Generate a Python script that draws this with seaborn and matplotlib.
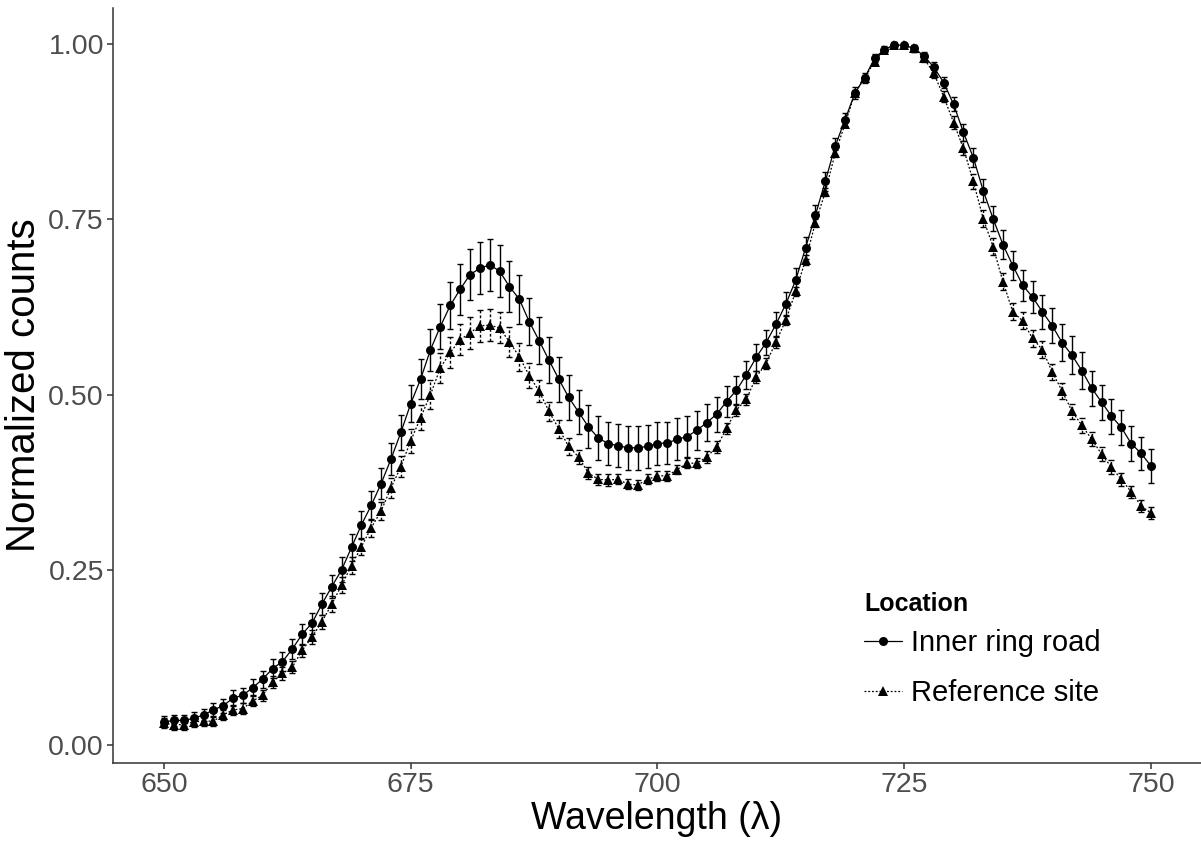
import numpy as np
import pandas as pd
import matplotlib
matplotlib.use("Agg")
import matplotlib.pyplot as plt
import seaborn as sns

wavelength = list(range(650, 751))

inner_mean = [
    0.033, 0.035, 0.035, 0.038, 0.043, 0.050, 0.056, 0.067, 0.071, 0.082,
    0.094, 0.109, 0.119, 0.137, 0.158, 0.174, 0.201, 0.226, 0.250, 0.282,
    0.314, 0.342, 0.373, 0.408, 0.446, 0.487, 0.522, 0.564, 0.597, 0.627,
    0.650, 0.671, 0.680, 0.685, 0.676, 0.654, 0.636, 0.604, 0.577, 0.549,
    0.522, 0.496, 0.475, 0.454, 0.438, 0.430, 0.427, 0.424, 0.424, 0.426,
    0.430, 0.431, 0.436, 0.440, 0.449, 0.460, 0.472, 0.490, 0.506, 0.528,
    0.553, 0.574, 0.600, 0.629, 0.663, 0.709, 0.756, 0.804, 0.854, 0.892,
    0.930, 0.952, 0.980, 0.992, 0.999, 0.998, 0.994, 0.983, 0.967, 0.945,
    0.914, 0.874, 0.838, 0.791, 0.751, 0.714, 0.684, 0.656, 0.639, 0.618,
    0.598, 0.574, 0.556, 0.534, 0.509, 0.489, 0.469, 0.453, 0.430, 0.416,
    0.398,
]
inner_sd = [
    0.008, 0.008, 0.008, 0.009, 0.009, 0.010, 0.010, 0.011, 0.011, 0.012,
    0.012, 0.013, 0.013, 0.014, 0.015, 0.015, 0.016, 0.017, 0.018, 0.019,
    0.020, 0.021, 0.022, 0.023, 0.025, 0.026, 0.028, 0.030, 0.032, 0.034,
    0.036, 0.036, 0.037, 0.037, 0.037, 0.036, 0.035, 0.034, 0.034, 0.033,
    0.032, 0.032, 0.031, 0.031, 0.031, 0.031, 0.031, 0.031, 0.031, 0.031,
    0.031, 0.030, 0.030, 0.029, 0.028, 0.027, 0.025, 0.022, 0.021, 0.020,
    0.019, 0.018, 0.018, 0.017, 0.017, 0.016, 0.015, 0.013, 0.012, 0.010,
    0.009, 0.007, 0.006, 0.005, 0.004, 0.004, 0.005, 0.006, 0.007, 0.008,
    0.010, 0.012, 0.014, 0.016, 0.018, 0.020, 0.021, 0.022, 0.023, 0.024,
    0.025, 0.026, 0.027, 0.026, 0.025, 0.025, 0.025, 0.025, 0.025, 0.024,
    0.024,
]
ref_mean = [
    0.031, 0.029, 0.029, 0.033, 0.034, 0.034, 0.043, 0.050, 0.052, 0.063,
    0.071, 0.090, 0.102, 0.111, 0.135, 0.154, 0.176, 0.201, 0.228, 0.256,
    0.283, 0.310, 0.334, 0.367, 0.397, 0.434, 0.467, 0.500, 0.538, 0.560,
    0.578, 0.588, 0.598, 0.599, 0.595, 0.575, 0.554, 0.527, 0.505, 0.476,
    0.451, 0.426, 0.411, 0.388, 0.379, 0.378, 0.379, 0.372, 0.371, 0.379,
    0.384, 0.384, 0.393, 0.402, 0.402, 0.411, 0.425, 0.452, 0.478, 0.493,
    0.525, 0.544, 0.575, 0.606, 0.647, 0.692, 0.745, 0.789, 0.844, 0.886,
    0.930, 0.952, 0.975, 0.992, 0.999, 0.998, 0.994, 0.980, 0.958, 0.925,
    0.888, 0.851, 0.804, 0.751, 0.711, 0.661, 0.618, 0.605, 0.580, 0.564,
    0.532, 0.505, 0.476, 0.456, 0.436, 0.415, 0.396, 0.379, 0.361, 0.341,
    0.331,
]
ref_sd = [
    0.007, 0.007, 0.007, 0.007, 0.007, 0.007, 0.007, 0.007, 0.008, 0.008,
    0.008, 0.008, 0.009, 0.009, 0.009, 0.010, 0.010, 0.011, 0.011, 0.012,
    0.012, 0.013, 0.013, 0.014, 0.015, 0.017, 0.018, 0.020, 0.021, 0.022,
    0.022, 0.023, 0.023, 0.023, 0.022, 0.021, 0.020, 0.018, 0.016, 0.014,
    0.013, 0.012, 0.010, 0.009, 0.008, 0.008, 0.007, 0.007, 0.007, 0.007,
    0.007, 0.007, 0.007, 0.007, 0.007, 0.008, 0.008, 0.008, 0.008, 0.008,
    0.008, 0.008, 0.008, 0.007, 0.007, 0.007, 0.006, 0.006, 0.005, 0.005,
    0.005, 0.004, 0.004, 0.004, 0.004, 0.004, 0.005, 0.006, 0.007, 0.008,
    0.009, 0.010, 0.011, 0.012, 0.012, 0.012, 0.012, 0.012, 0.012, 0.012,
    0.012, 0.012, 0.011, 0.011, 0.010, 0.010, 0.010, 0.009, 0.009, 0.009,
    0.008,
]
locations = ["Inner ring road", "Reference site"]

df = pd.concat([
    pd.DataFrame({"Wavelength": wavelength, "Mean": inner_mean, "SD": inner_sd, "Location": locations[0]}),
    pd.DataFrame({"Wavelength": wavelength, "Mean": ref_mean, "SD": ref_sd, "Location": locations[1]}),
], ignore_index=True)

sns.set_theme(style="ticks")
plt.rcParams["font.family"] = ["Liberation Sans", "DejaVu Sans"]

fig = plt.figure(figsize=(12.01, 8.43), dpi=100)
ax = fig.add_axes([113 / 1201, 1 - 763 / 843, 1 - 113 / 1201, (763 - 8) / 843])

markers = {locations[0]: "o", locations[1]: "^"}

for loc in locations:
    sub = df[df["Location"] == loc]
    eb = ax.errorbar(sub["Wavelength"], sub["Mean"], yerr=sub["SD"], fmt="none",
                     ecolor="black", elinewidth=1.0, capsize=2.5, capthick=1.0, zorder=2)
    if loc == locations[1]:
        for c in eb[2]:
            c.set_linestyle((0, (2, 1.5)))

sns.lineplot(data=df, x="Wavelength", y="Mean", style="Location",
             markers=markers, dashes={locations[0]: "", locations[1]: (1.5, 1.5)},
             color="black", linewidth=0.9, markersize=6.5, markeredgewidth=0,
             ax=ax, legend=True, zorder=3)

ax.set_xlim(644.83, 755.07)
ax.set_ylim(-0.0257, 1.0514)
ax.set_xticks([650, 675, 700, 725, 750])
ax.set_yticks([0.0, 0.25, 0.5, 0.75, 1.0])
ax.set_yticklabels(["0.00", "0.25", "0.50", "0.75", "1.00"])
for s in ["top", "right"]:
    ax.spines[s].set_visible(False)
for s in ["left", "bottom"]:
    ax.spines[s].set_color("#333333")
    ax.spines[s].set_linewidth(1.1)
ax.tick_params(axis="both", colors="#333333", labelcolor="#4D4D4D", labelsize=20.5,
               length=4, width=1.1, direction="out", pad=2.5)
ax.set_xlabel("Wavelength (λ)", fontsize=27, color="black", labelpad=2)
ax.set_ylabel("Normalized counts", fontsize=29, color="black", labelpad=4)

handles, labels = ax.get_legend_handles_labels()
leg = ax.legend(handles, labels, title="Location", loc="upper left",
                bbox_to_anchor=(841 / 1201, 1 - 569 / 843), bbox_transform=fig.transFigure,
                frameon=False, fontsize=21, title_fontproperties={"weight": "bold", "size": 18},
                alignment="left", handlelength=1.3, handletextpad=0.3, labelspacing=0.75,
                borderpad=0.3, labelcolor="black")
leg.get_title().set_color("black")
leg._legend_box.sep = 9.4

fig.savefig("out.png", dpi=100)
